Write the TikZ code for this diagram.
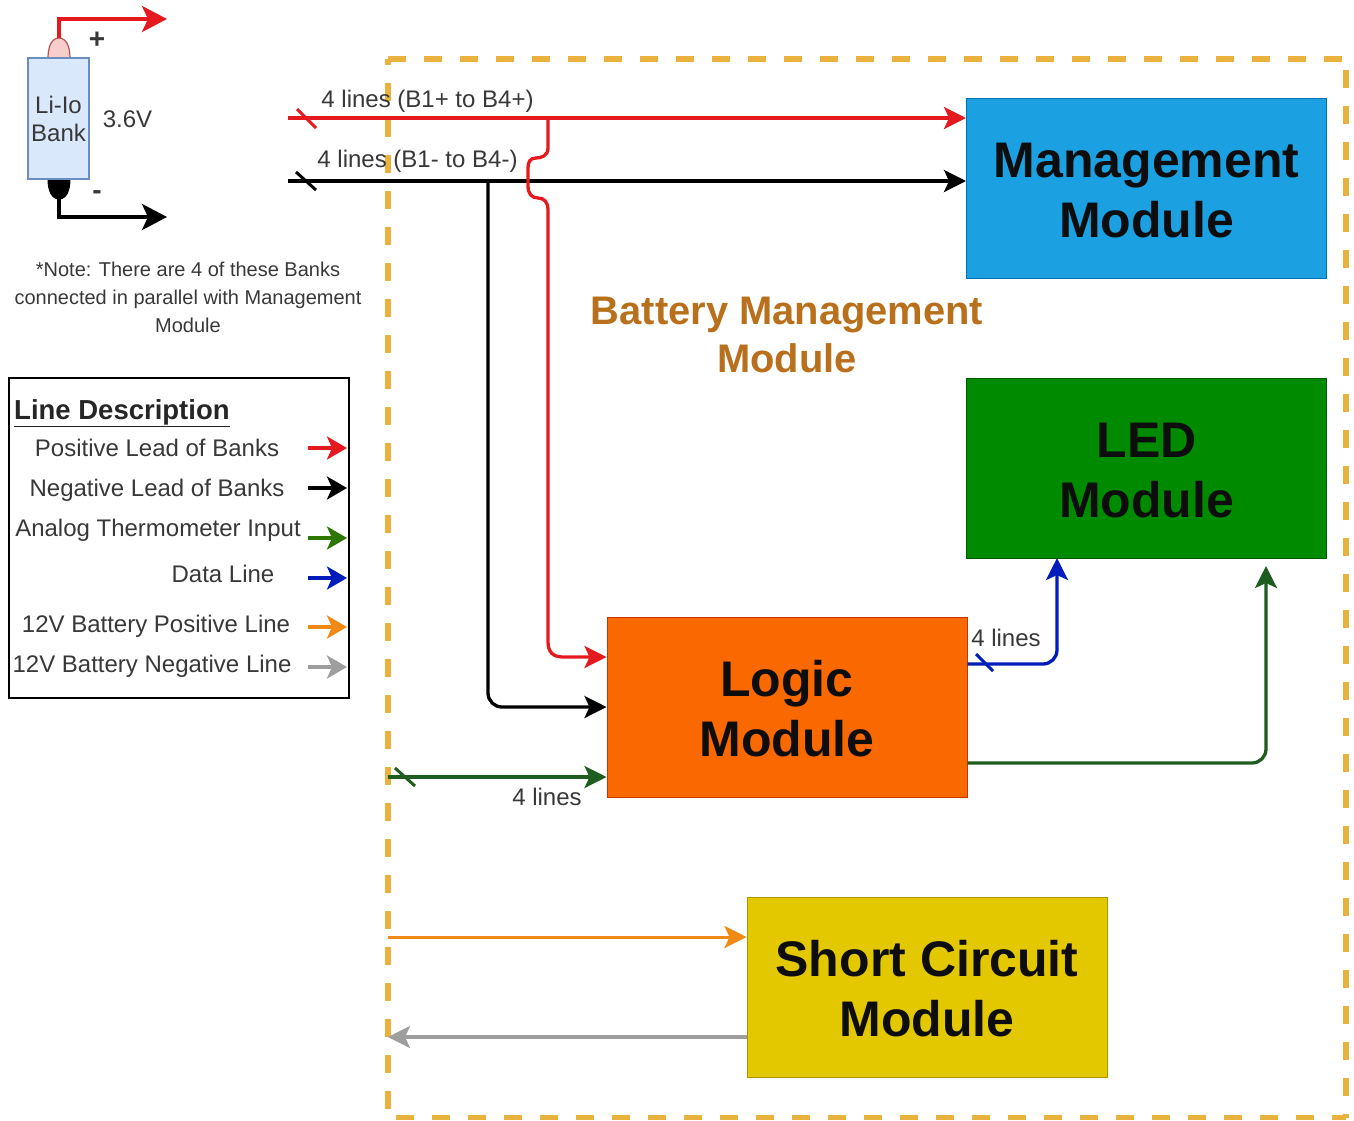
\documentclass[tikz,border=0pt]{standalone}
\usepackage{fontspec}
\setmainfont{Liberation Sans}
\usetikzlibrary{arrows.meta}
\definecolor{dashc}{HTML}{E8B23C}
\definecolor{redc}{HTML}{E51A1F}
\definecolor{txt}{HTML}{383838}
\definecolor{bluec}{HTML}{001DBC}
\definecolor{dgreen}{HTML}{1F5C1F}
\definecolor{lgreen}{HTML}{2D7600}
\definecolor{orangec}{HTML}{F08A14}
\definecolor{grayc}{HTML}{9E9E9E}
\definecolor{brownc}{HTML}{B9701C}
\definecolor{bankfill}{HTML}{DAE8FC}
\definecolor{bankline}{HTML}{6C8EBF}
\definecolor{capfill}{HTML}{F8CECC}
\definecolor{capline}{HTML}{B85450}
\definecolor{mgmtfill}{HTML}{1BA1E2}
\definecolor{mgmtline}{HTML}{006EAF}
\definecolor{ledfill}{HTML}{008A00}
\definecolor{ledline}{HTML}{005700}
\definecolor{logicfill}{HTML}{FA6800}
\definecolor{logicline}{HTML}{C73500}
\definecolor{shortfill}{HTML}{E3C800}
\definecolor{shortline}{HTML}{B09500}
\newcommand{\firstline}{\rule{0pt}{39.5pt}}
\tikzset{
  x=1pt,y=-1pt,
  module/.style={draw=#1line,fill=#1fill,line width=1pt,minimum width=360pt,minimum height=180pt,inner sep=0pt,align=center,text=black!95,font=\fontsize{50}{60}\selectfont\bfseries},
  lbl/.style={text=txt,inner sep=0pt,text height=22.2pt,text depth=5pt,font=\fontsize{24}{28}\selectfont},
  notetext/.style={text=txt,inner sep=0pt,align=center,font=\fontsize{20}{28}\selectfont},
  wire/.style={line width=3.3pt,-{Stealth[length=22pt,width=22pt,inset=5pt]},rounded corners=14pt},
  legarrow/.style={line width=3.3pt,-{Stealth[length=20pt,width=23pt,inset=5pt]}},
  bigarrow/.style={line width=3.6pt,-{Stealth[length=25pt,width=26pt,inset=6pt]}},
  tick/.style={line width=3pt},
  frameedge/.style={draw=dashc,line width=5.5pt,dash pattern=on 18pt off 18pt},
}
\begin{document}
\begin{tikzpicture}
\useasboundingbox (0,0) rectangle (1354,1120);
% dashed frame
\coordinate (tl) at (388,59);
\coordinate (tr) at (1346,59);
\coordinate (br) at (1346,1117.5);
\coordinate (bl) at (388,1117.5);
\draw[frameedge,dash phase=0pt] (tl) -- (tr);
\draw[frameedge,dash phase=25pt] (tr) -- (br);
\draw[frameedge,dash phase=4pt] (br) -- (bl);
\draw[frameedge,dash phase=27pt] (bl) -- (tl);
% bank
\draw[draw=capline,fill=capfill,line width=1.2pt] (48,58) .. controls (48,46) and (52,38) .. (59,38) .. controls (66,38) and (70,46) .. (70,58) -- cycle;
\draw[fill=black,line width=1pt] (48,179) .. controls (48,191) and (52,199) .. (59,199) .. controls (66,199) and (70,191) .. (70,179) -- cycle;
\node[draw=bankline,fill=bankfill,line width=1.2pt,minimum width=61pt,minimum height=121pt,inner sep=0pt,align=center,text=txt,font=\fontsize{24}{28}\selectfont] (bank) at (58.5,118.5) {Li-Io\\Bank};
\coordinate (bankP) at (59,38);
\coordinate (bankPe) at (167,19);
\coordinate (bankN) at (59,199);
\coordinate (bankNe) at (167,217);
\draw[bigarrow,redc] (bankP) |- (bankPe);
\draw[bigarrow,black] (bankN) |- (bankNe);
\node[inner sep=0pt,text=txt,font=\fontsize{28}{30}\selectfont\bfseries] (plus) at (97,40) {+};
\node[inner sep=0pt,text=txt,font=\fontsize{28}{30}\selectfont\bfseries] (minus) at (97,195) {-};
\node[lbl] (volt) at (127.5,119) {3.6V};
\node[notetext] (note) at (188,297) {*Note: There are 4 of these Banks\\connected in parallel with Management\\Module};
% legend
\node[draw=black,line width=1.5pt,minimum width=340pt,minimum height=320pt,inner sep=0pt] (legend) at (179,538) {};
\node[inner sep=0pt,anchor=west,text=black!85,text height=24pt,text depth=8pt,font=\fontsize{27.5}{30}\selectfont\bfseries] (legtitle) at (14,411) {\underline{Line Description}};
\node[lbl] (l1) at (157,448) {Positive Lead of Banks};
\node[lbl] (l2) at (157,488) {Negative Lead of Banks};
\node[lbl] (l3) at (158,528) {Analog Thermometer Input};
\node[lbl] (l4) at (223,574) {Data Line};
\node[lbl] (l5) at (156,624) {12V Battery Positive Line};
\node[lbl] (l6) at (152,664) {12V Battery Negative Line};
\coordinate (a1) at (308,448); \coordinate (b1) at (347,448);
\coordinate (a2) at (308,488); \coordinate (b2) at (347,488);
\coordinate (a3) at (308,538); \coordinate (b3) at (347,538);
\coordinate (a4) at (308,578); \coordinate (b4) at (347,578);
\coordinate (a5) at (308,627); \coordinate (b5) at (347,627);
\coordinate (a6) at (308,667); \coordinate (b6) at (347,667);
\draw[legarrow,redc] (a1) -- (b1);
\draw[legarrow,black] (a2) -- (b2);
\draw[legarrow,lgreen] (a3) -- (b3);
\draw[legarrow,bluec] (a4) -- (b4);
\draw[legarrow,orangec] (a5) -- (b5);
\draw[legarrow,grayc] (a6) -- (b6);
% modules
\node[module=mgmt] (mgmt) at (1146.5,188) {\firstline Management\\Module};
\node[module=led] (led) at (1146.5,468) {\firstline LED\\Module};
\node[module=logic] (logic) at (787,707) {\firstline Logic\\Module};
\node[module=short] (short) at (927,987) {\firstline Short Circuit\\Module};
\node[inner sep=0pt,align=center,text=brownc,font=\fontsize{39.9}{48}\selectfont\bfseries] (title) at (787,335) {Battery Management\\Module};
% main wires
\coordinate (redS) at (288,118);
\coordinate (blkS) at (288,181);
\coordinate (grnS) at (388,777);
\coordinate (orgS) at (388,937);
\coordinate (gryE) at (388,1037);
\coordinate (jR) at (548,118);
\coordinate (jB) at (488,181);
\draw[wire,black] (blkS) -- (blkS -| mgmt.west);
\draw[wire,redc] (redS) -- (redS -| mgmt.west);
\draw[wire,black] (jB) |- (logic.west);
\draw[wire,redc,rounded corners=0pt] (jR) -- (548,148) .. controls (548,156) and (541,158) .. (536,158) .. controls (530,158) and (528,162) .. (528,168) -- (528,186) .. controls (528,194) and (532,198) .. (538,198) .. controls (544,198) and (548,202) .. (548,210) -- (548,642) .. controls (548,652) and (553,657) .. (563,657) -- ([yshift=50pt]logic.west);
\draw[wire,dgreen] (grnS) -- ([yshift=-70pt]logic.west);
\draw[wire,orangec,line width=3pt] (orgS) -- (orgS -| short.west);
\draw[wire,grayc,line width=3.6pt] ([yshift=-50pt]short.west) -- (gryE);
\draw[wire,bluec] ([yshift=43pt]logic.east) -| (1057,558);
\draw[wire,dgreen] ([yshift=-56pt]logic.east) -| (1266,566);
% ticks
\draw[tick,redc] (297,109) -- (316,128);
\draw[tick,black] (296,172) -- (316,190);
\draw[tick,dgreen] (395,768) -- (415,786);
\draw[tick,bluec] (976,654) -- (993,671);
% labels
\node[lbl] (t1) at (427.5,99) {4 lines (B1+ to B4+)};
\node[lbl] (t2) at (417.5,159) {4 lines (B1- to B4-)};
\node[lbl] (t3) at (547,797) {4 lines};
\node[lbl] (t4) at (1006,638) {4 lines};
\end{tikzpicture}
\end{document}
